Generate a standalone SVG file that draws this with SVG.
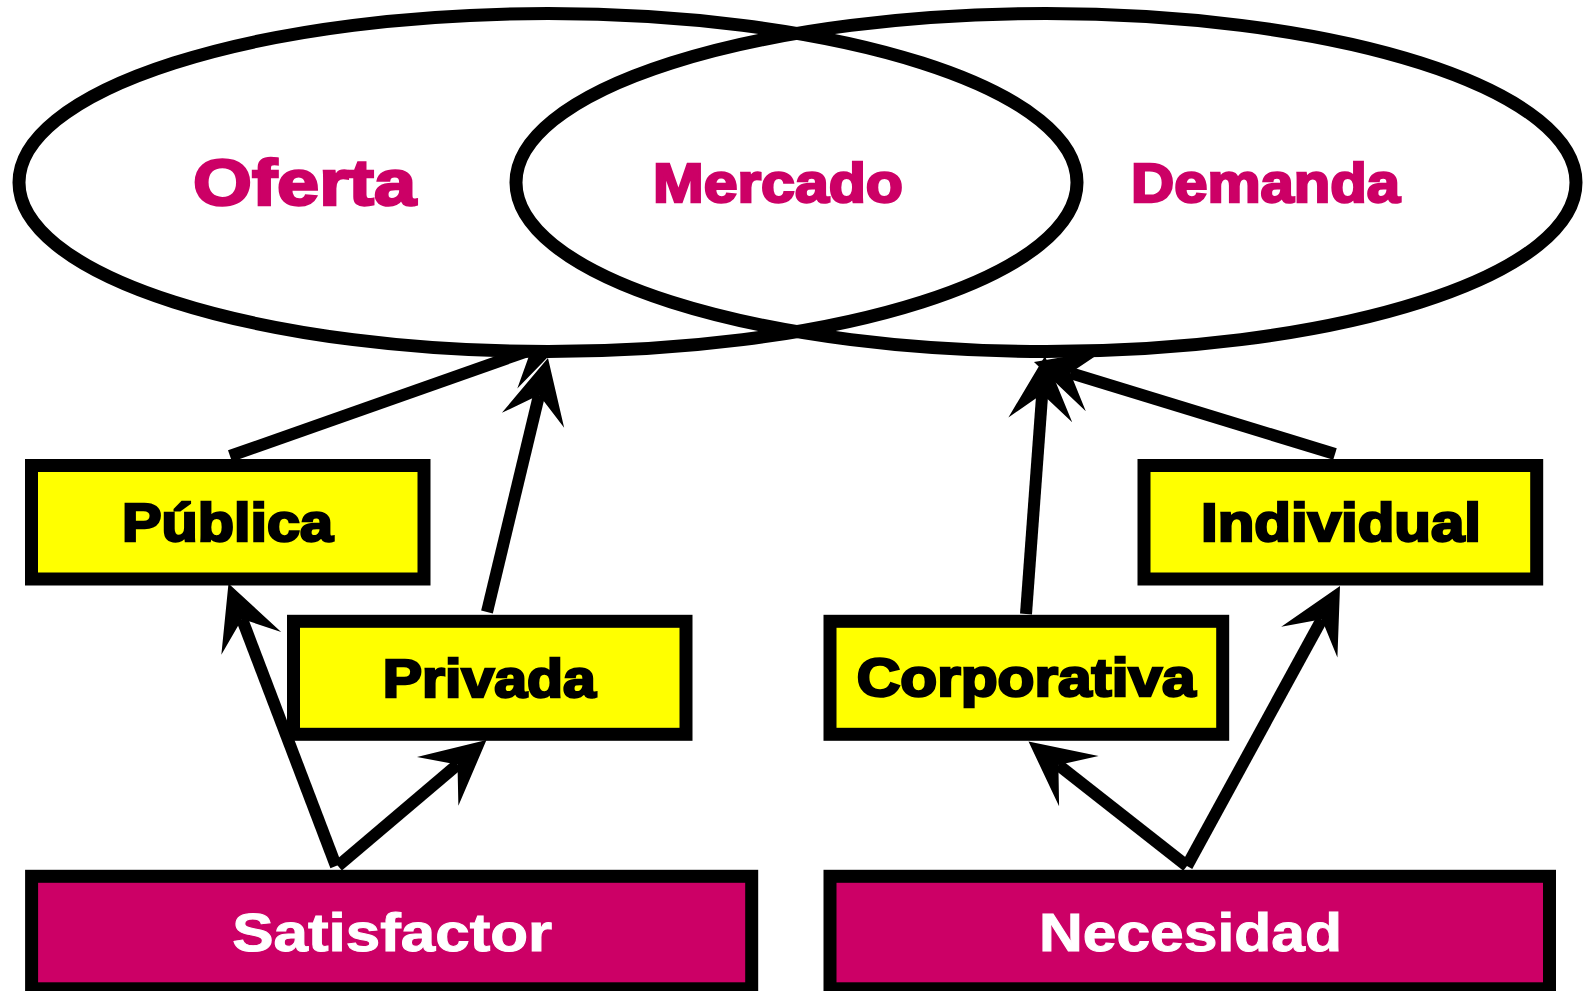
<svg xmlns="http://www.w3.org/2000/svg" width="1591" height="991" viewBox="0 0 1591 991">
<style>
.bg{fill:#ffffff}
.ell{stroke:#000;stroke-width:13}
.box{stroke:#000;stroke-width:13}
.y{fill:#ffff00}
.m{fill:#cc0066}
.conn line{stroke:#000;stroke-width:12;marker-end:url(#arr)}
.t{font-family:"Liberation Sans",Arial,sans-serif;font-weight:bold;text-anchor:middle}
.tm{fill:#cc0066;stroke:#cc0066;stroke-width:2.5;font-size:62px}
.tb{fill:#000;stroke:#000;stroke-width:2.5;font-size:53px}
.tw{fill:#fff;stroke:#fff;stroke-width:1;font-size:53px}
</style>
<defs>
<marker id="arr" markerUnits="userSpaceOnUse" viewBox="-30 -36 72 72" markerWidth="72" markerHeight="72" refX="0" refY="0" orient="auto">
<path d="M38,0 L-26,-32 L0,0 L-26,32 Z" fill="#000"/>
</marker>
</defs>
<rect class="bg" x="0" y="0" width="1591" height="991"/>
<g id="connectors" class="conn">
<line x1="230" y1="456" x2="531.2" y2="349.8"/>
<line x1="487" y1="612" x2="539.1" y2="395.0"/>
<line x1="336" y1="866" x2="242.0" y2="619.0"/>
<line x1="338" y1="866" x2="457.5" y2="764.6"/>
<line x1="1187" y1="866" x2="1058.4" y2="765.0"/>
<line x1="1187" y1="866" x2="1321.8" y2="619.3"/>
<line x1="1026" y1="614" x2="1042.2" y2="393.9"/>
<line x1="1335" y1="454" x2="1070.3" y2="373.1"/>
</g>
<g id="oferta">
<ellipse class="ell" cx="548" cy="182.5" rx="529" ry="169" fill="#fff"/>
<text class="t tm" x="304.5" y="205" style="font-size:64px" textLength="223" lengthAdjust="spacingAndGlyphs">Oferta</text>
</g>
<g id="demanda">
<ellipse class="ell" cx="1046" cy="182.5" rx="530" ry="169" fill="none"/>
<text class="t tm" x="1265.5" y="202" style="font-size:56px" textLength="269" lengthAdjust="spacingAndGlyphs">Demanda</text>
</g>
<g id="mercado">
<text class="t tm" x="778" y="202" style="font-size:56px" textLength="250" lengthAdjust="spacingAndGlyphs">Mercado</text>
</g>
<g id="publica">
<rect class="box y" x="31.5" y="465.5" width="392.5" height="113.5"/>
<text class="t tb" x="227.5" y="541" textLength="211" lengthAdjust="spacingAndGlyphs">Pública</text>
</g>
<g id="privada">
<rect class="box y" x="293.5" y="621.3" width="392.5" height="113"/>
<text class="t tb" x="489.3" y="696.7" textLength="213" lengthAdjust="spacingAndGlyphs">Privada</text>
</g>
<g id="corporativa">
<rect class="box y" x="830" y="621.3" width="392.7" height="113"/>
<text class="t tb" x="1026.2" y="696" textLength="339" lengthAdjust="spacingAndGlyphs">Corporativa</text>
</g>
<g id="individual">
<rect class="box y" x="1144" y="465.5" width="392.7" height="113.5"/>
<text class="t tb" x="1341" y="540.7" textLength="280" lengthAdjust="spacingAndGlyphs">Individual</text>
</g>
<g id="satisfactor">
<rect class="box m" x="31.6" y="876.3" width="720.1" height="112.5"/>
<text class="t tw" x="392.2" y="950.7" textLength="320" lengthAdjust="spacingAndGlyphs">Satisfactor</text>
</g>
<g id="necesidad">
<rect class="box m" x="830" y="876.3" width="719.5" height="112.5"/>
<text class="t tw" x="1190.5" y="950.7" textLength="303" lengthAdjust="spacingAndGlyphs">Necesidad</text>
</g>
</svg>
